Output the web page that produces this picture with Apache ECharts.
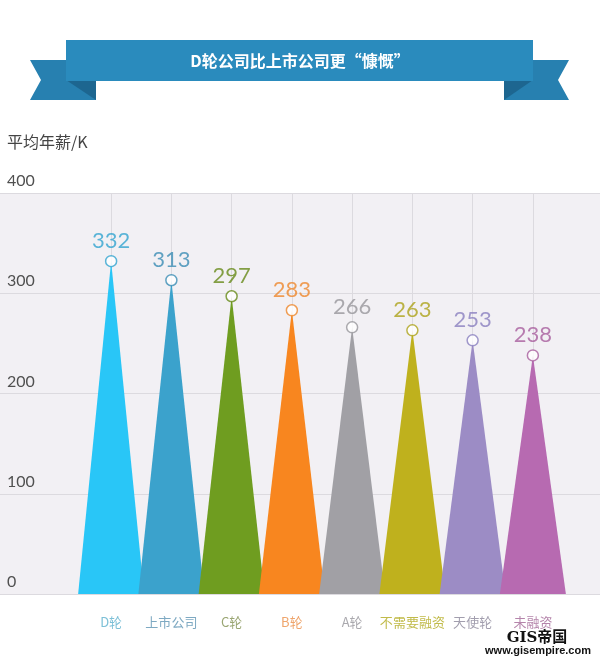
<!DOCTYPE html>
<html>
<head>
<meta charset="utf-8">
<script src="https://cdn.jsdelivr.net/npm/echarts@6/dist/echarts.min.js"></script>
<style>
html,body{margin:0;padding:0;background:#fff;}
#main{width:600px;height:664px;}
</style>
</head>
<body>
<div id="main"></div>
<script>
var title = 'D轮公司比上市公司更“慷慨”';
var yAxisName = '平均年薪/K';
var categories = ['D轮', '上市公司', 'C轮', 'B轮', 'A轮', '不需要融资', '天使轮', '未融资'];
var salaries = [332, 313, 297, 283, 266, 263, 253, 238];
var yTicks = [0, 100, 200, 300, 400];
var barColors = ['#29c6f7', '#3ba2cc', '#6f9d20', '#f8861f', '#a1a0a5', '#bfb11d', '#9c8cc5', '#b76ab1'];
var valueColors = ['#32a4d0', '#3a8cb4', '#678a18', '#ee872c', '#97969b', '#ada31a', '#8a80bf', '#a75e9e'];
var catLabelColors = ['#7dc0d7', '#7ea9c2', '#9aa673', '#efa56c', '#aaa9ae', '#c1bb4a', '#a29eae', '#b585ab'];

var chart = echarts.init(document.getElementById('main'), null, {renderer: 'canvas'});

var ribbonMain = '#2a8bbd';
var ribbonTail = '#2780b0';
var ribbonFold = '#1d6690';

var option = {
  animation: false,
  backgroundColor: '#ffffff',
  graphic: [
    {type: 'polygon', shape: {points: [[30,60],[96,60],[96,100],[30,100],[41,80]]}, style: {fill: ribbonTail}, z: 10},
    {type: 'polygon', shape: {points: [[504,60],[569,60],[558,80],[569,100],[504,100]]}, style: {fill: ribbonTail}, z: 10},
    {type: 'polygon', shape: {points: [[66,80],[96,80],[96,100]]}, style: {fill: ribbonFold}, z: 11},
    {type: 'polygon', shape: {points: [[504,80],[533,80],[504,100]]}, style: {fill: ribbonFold}, z: 11},
    {type: 'rect', shape: {x: 66, y: 40, width: 467, height: 41}, style: {fill: ribbonMain}, z: 12},
    {type: 'text', x: 300, y: 61, z: 13, style: {text: title, fill: '#ffffff', font: 'bold 16px "Noto Sans CJK SC", sans-serif', align: 'center', verticalAlign: 'middle'}},
    {type: 'text', x: 7, y: 142, z: 13, style: {text: yAxisName, fill: '#444444', font: '16px "Noto Sans CJK SC", sans-serif', align: 'left', verticalAlign: 'middle'}},
    {type: 'text', x: 537, y: 638, z: 13, style: {text: 'GIS帝国', fill: '#111111', font: 'bold 15px "DejaVu Serif", "Noto Sans CJK SC", serif', align: 'center', verticalAlign: 'middle'}},
    {type: 'text', x: 538, y: 651, z: 13, style: {text: 'www.gisempire.com', fill: '#111111', font: 'bold 11px "Liberation Sans", sans-serif', align: 'center', verticalAlign: 'middle'}}
  ],
  grid: [
    {left: 81, right: 37, top: 193, height: 401},
    {left: 0, right: 0, top: 193, height: 401, show: true, backgroundColor: '#f2f0f4', borderWidth: 0, z: -1}
  ],
  xAxis: [
    {
      type: 'category', gridIndex: 0, data: categories, boundaryGap: true,
      axisLine: {show: false}, axisTick: {show: false}, splitLine: {show: false},
      axisLabel: {
        interval: 0, margin: 22, fontSize: 13, fontFamily: '"Noto Sans CJK SC", sans-serif',
        color: function (v, i) { return catLabelColors[categories.indexOf(v)]; }
      }
    },
    {type: 'value', gridIndex: 1, show: false, min: 0, max: 1}
  ],
  yAxis: [
    {type: 'value', gridIndex: 0, min: 0, max: 400, interval: 100, show: false},
    {
      type: 'value', gridIndex: 1, min: yTicks[0], max: yTicks[yTicks.length - 1], interval: 100,
      axisLine: {show: false}, axisTick: {show: false},
      splitLine: {show: true, lineStyle: {color: '#dcdadf', width: 1}},
      axisLabel: {
        inside: true, margin: 7, align: 'left', verticalAlign: 'bottom', padding: [0, 0, 4, 0],
        fontSize: 16, color: '#505050', fontFamily: '"Lato", "Noto Sans", sans-serif', fontWeight: 'normal',
        formatter: function (v) { return yTicks.indexOf(v) >= 0 ? String(v) : ''; }
      }
    }
  ],
  series: [
    {
      type: 'pictorialBar', xAxisIndex: 0, yAxisIndex: 0, z: 2,
      symbol: 'triangle', symbolSize: [66, '100%'], symbolKeepAspect: false,
      data: salaries.map(function (v, i) { return {value: v, itemStyle: {color: barColors[i]}}; }),
      markLine: {
        silent: true, symbol: 'none', z: 1, animation: false,
        label: {show: false},
        lineStyle: {color: '#dcdadf', type: 'solid', width: 1},
        data: categories.map(function (c) { return {xAxis: c}; })
      }
    },
    {
      type: 'scatter', xAxisIndex: 0, yAxisIndex: 0, z: 5,
      symbol: 'circle', symbolSize: 11,
      data: salaries.map(function (v, i) {
        return {
          value: v,
          itemStyle: {color: '#ffffff', borderColor: valueColors[i], borderWidth: 1.5},
          label: {color: valueColors[i]}
        };
      }),
      label: {
        show: true, position: 'top', distance: 3,
        fontSize: 22, fontFamily: '"Lato", "Noto Sans", sans-serif', fontWeight: 'normal'
      }
    }
  ]
};
chart.setOption(option);
</script>
</body>
</html>
